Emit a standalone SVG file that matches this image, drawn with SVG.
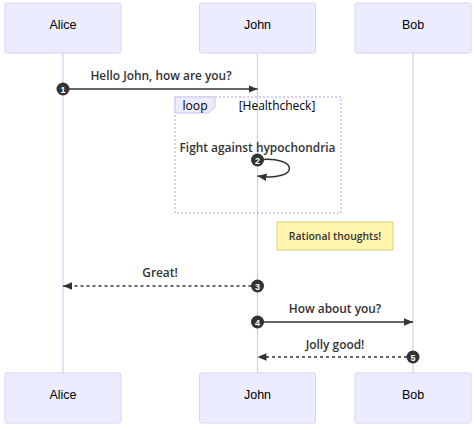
<svg xmlns="http://www.w3.org/2000/svg" width="474" height="430" viewBox="0 0 474 430">
<style>
.actor{fill:#ECECFF;stroke:#d9d2f5;stroke-width:1}
.atext{font-family:"Liberation Sans",Arial,sans-serif;font-size:12.5px;fill:#000;text-anchor:middle;dominant-baseline:central}
.life{stroke:#d4cdf2;stroke-width:1.2}
.msg{stroke:#333;stroke-width:1.5;fill:none}
.dash{stroke-dasharray:3,3}
.mtext{font-family:"Open Sans","DejaVu Sans",sans-serif;font-size:11.9px;font-weight:600;fill:#333;text-anchor:middle}
.num{fill:#333}
.ntext{font-family:"Liberation Sans",Arial,sans-serif;font-size:9px;font-weight:bold;fill:#fff;text-anchor:middle;dominant-baseline:central}
.loop{fill:none;stroke:#c9c2ee;stroke-width:1.5;stroke-dasharray:2,2}
</style>
<defs>
<marker id="arr" viewBox="0 0 12 10" refX="12" refY="5" markerWidth="9" markerHeight="8" markerUnits="userSpaceOnUse" orient="auto-start-reverse">
<path d="M0,0 L12,5 L0,10 z" fill="#333"/>
</marker>
</defs>
<rect width="474" height="430" fill="#fff"/>
<g id="lifelines">
<line class="life" x1="63" y1="53" x2="63" y2="373"/>
<line class="life" x1="257.5" y1="53" x2="257.5" y2="373"/>
<line class="life" x1="413" y1="53" x2="413" y2="373"/>
</g>
<g id="alice-top"><rect class="actor" x="5" y="3" width="116" height="50" rx="2"/><text class="atext" x="63" y="25">Alice</text></g>
<g id="john-top"><rect class="actor" x="199.5" y="3" width="116" height="50" rx="2"/><text class="atext" x="257.5" y="25">John</text></g>
<g id="bob-top"><rect class="actor" x="355" y="3" width="116" height="50" rx="2"/><text class="atext" x="413" y="25">Bob</text></g>
<g id="alice-bottom"><rect class="actor" x="5" y="373" width="116" height="50" rx="2"/><text class="atext" x="63" y="395">Alice</text></g>
<g id="john-bottom"><rect class="actor" x="199.5" y="373" width="116" height="50" rx="2"/><text class="atext" x="257.5" y="395">John</text></g>
<g id="bob-bottom"><rect class="actor" x="355" y="373" width="116" height="50" rx="2"/><text class="atext" x="413" y="395">Bob</text></g>
<g id="loop">
<rect class="loop" x="175" y="97" width="166" height="116"/>
<path d="M175,97 L215,97 L215,107 L208,113 L175,113 z" fill="#ECECFF" stroke="#c9c2ee" stroke-width="1"/>
<text x="195" y="110" font-family="Open Sans,DejaVu Sans,sans-serif" font-size="12.2" fill="#000" text-anchor="middle">loop</text>
<text x="277" y="110" font-family="Open Sans,DejaVu Sans,sans-serif" font-size="12" fill="#000" text-anchor="middle">[Healthcheck]</text>
</g>
<g id="note">
<rect x="277" y="222" width="116" height="28" fill="#fff5ad" stroke="#d8cf7a" stroke-width="1"/>
<text x="335" y="240" font-family="Open Sans,DejaVu Sans,sans-serif" font-size="10.4" font-weight="600" fill="#333" text-anchor="middle">Rational thoughts!</text>
</g>
<g id="connectors">
<line class="msg" x1="63" y1="89" x2="257.5" y2="89" marker-end="url(#arr)"/>
<text class="mtext" x="161" y="80">Hello John, how are you?</text>
<path class="msg" d="M257.5,160 C300,155 300,182 257.5,176" marker-end="url(#arr)"/>
<text class="mtext" x="257.5" y="152">Fight against hypochondria</text>
<line class="msg dash" x1="257.5" y1="286" x2="63" y2="286" marker-end="url(#arr)"/>
<text class="mtext" x="160" y="277">Great!</text>
<line class="msg" x1="257.5" y1="322" x2="413" y2="322" marker-end="url(#arr)"/>
<text class="mtext" x="335" y="313">How about you?</text>
<line class="msg dash" x1="413" y1="357" x2="257.5" y2="357" marker-end="url(#arr)"/>
<text class="mtext" x="335" y="349">Jolly good!</text>
</g>
<g id="numbers">
<circle class="num" cx="63" cy="89" r="6.5"/><text class="ntext" x="63" y="89.5">1</text>
<circle class="num" cx="257.5" cy="160" r="6.5"/><text class="ntext" x="257.5" y="160.5">2</text>
<circle class="num" cx="257.5" cy="286" r="6.5"/><text class="ntext" x="257.5" y="286.5">3</text>
<circle class="num" cx="257.5" cy="322" r="6.5"/><text class="ntext" x="257.5" y="322.5">4</text>
<circle class="num" cx="413" cy="357" r="6.5"/><text class="ntext" x="413" y="357.5">5</text>
</g>
</svg>
